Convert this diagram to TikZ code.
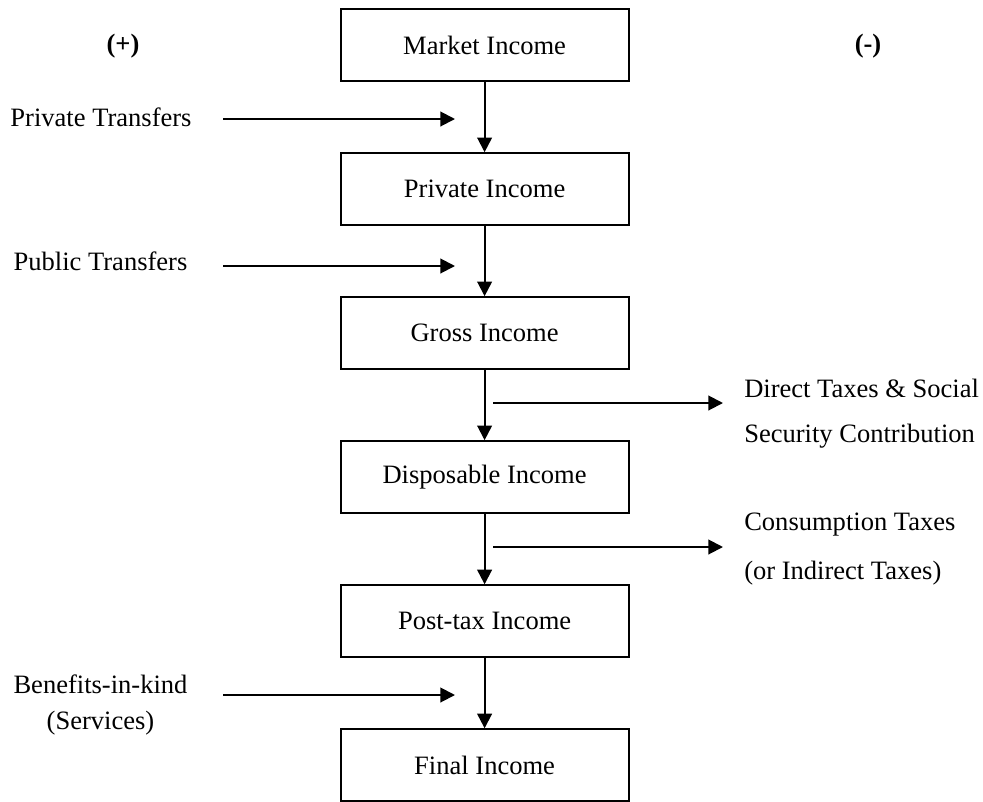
\documentclass[tikz,border=0pt]{standalone}
\usepackage{fontspec}
\setmainfont{Liberation Serif}
\usetikzlibrary{arrows.meta}
\begin{document}
\begin{tikzpicture}[x=0.75pt,y=-0.75pt,
  font=\fontsize{19.9}{24}\selectfont,
  incbox/.style={draw,line width=1.5pt,minimum width=216pt,minimum height=54pt,inner sep=0pt},
  lbl/.style={inner sep=0pt,align=center},
  rlbl/.style={inner sep=0pt,anchor=west},
  arr/.style={line width=1.5pt,-{Triangle[length=11pt,width=11pt]}}]
\useasboundingbox (0,0) rectangle (983,801);
\clip (0,0) rectangle (983,801);
\node[incbox] (m) at (484.6,45.2) {Market Income};
\node[incbox] (p) at (484.6,189.2) {Private Income};
\node[incbox] (g) at (484.6,333.2) {Gross Income};
\node[incbox] (d) at (484.6,477.2) {Disposable Income};
\node[incbox] (t) at (484.6,621.3) {Post-tax Income};
\node[incbox] (f) at (484.6,765.3) {Final Income};
\draw[arr] (m.south) -- (p.north);
\draw[arr] (p.south) -- (g.north);
\draw[arr] (g.south) -- (d.north);
\draw[arr] (d.south) -- (t.north);
\draw[arr] (t.south) -- (f.north);
\node[lbl,font=\fontsize{19.9}{24}\selectfont\bfseries] (plus) at (123,46.5) {(+)};
\node[lbl,font=\fontsize{19.9}{24}\selectfont\bfseries] (minus) at (868,46.5) {(-)};
\node[lbl] (l1) at (101,117) {Private Transfers};
\node[lbl] (l2) at (100.5,261) {Public Transfers};
\node[lbl] (l3a) at (100.5,684) {Benefits-in-kind};
\node[lbl] (l3b) at (100.5,723) {(Services)};
\node[rlbl] (r1a) at (744,388.5) {Direct Taxes \& Social};
\node[rlbl] (r1b) at (744,436.5) {Security Contribution};
\node[rlbl] (r2a) at (744,525) {Consumption Taxes};
\node[rlbl] (r2b) at (744,573) {(or Indirect Taxes)};
\coordinate (a1s) at (223,119);
\coordinate (a1e) at (455,119);
\coordinate (a2s) at (223,266);
\coordinate (a2e) at (455,266);
\coordinate (a3s) at (223,695);
\coordinate (a3e) at (455,695);
\coordinate (b1s) at (493,403);
\coordinate (b1e) at (723,403);
\coordinate (b2s) at (493,547);
\coordinate (b2e) at (723,547);
\draw[arr] (a1s) -- (a1e);
\draw[arr] (a2s) -- (a2e);
\draw[arr] (a3s) -- (a3e);
\draw[arr] (b1s) -- (b1e);
\draw[arr] (b2s) -- (b2e);
\end{tikzpicture}
\end{document}
